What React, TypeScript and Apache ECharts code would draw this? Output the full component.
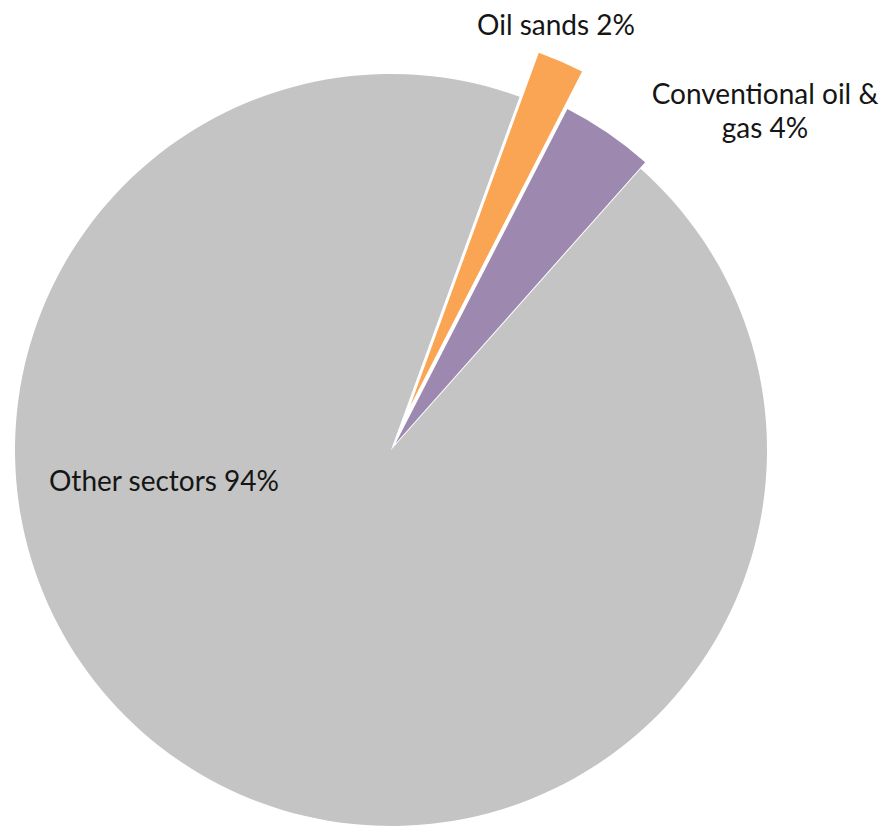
import React, { useEffect, useRef } from "react";
import * as echarts from "echarts";

const names = ["Oil sands", "Conventional oil & gas", "Other sectors"];
const labelNames = ["Oil sands", "Conventional oil &\ngas", "Other sectors"];
const values = [2, 4, 94];
const colors = ["#f9a553", "#9d88b0", "#c4c4c4"];
const offsets = [48, 8, 0];
const labelPos: [number, number][] = [
  [556, 24],
  [765, 110],
  [164, 480],
];

export default function App() {
  const ref = useRef<HTMLDivElement>(null);
  useEffect(() => {
    document.body.style.margin = "0";
    const chart = echarts.init(ref.current!, null, { renderer: "svg" });
    const total = values.reduce((a, b) => a + b, 0);
    const series = names.map((_, k) => ({
      type: "pie",
      center: [391, 450],
      radius: 376,
      startAngle: 70,
      clockwise: true,
      selectedMode: "multiple",
      selectedOffset: offsets[k],
      avoidLabelOverlap: false,
      silent: true,
      z: k === 2 ? 1 : 2,
      labelLine: { show: false },
      label: { show: false },
      data: names.map((n, i) => ({
        name: n,
        value: values[i],
        selected: i === k && offsets[k] > 0,
        itemStyle: {
          color: i === k ? colors[i] : "rgba(0,0,0,0)",
        },
      })),
    }));
    const graphic = names.map((_, i) => ({
      type: "text",
      x: labelPos[i][0],
      y: labelPos[i][1],
      z: 100,
      zlevel: 1,
      silent: true,
      style: {
        text: `${labelNames[i]} ${Math.round((values[i] / total) * 100)}%`,
        fill: "#151515",
        font: "28px Lato",
        lineHeight: 34,
        textAlign: "center",
        textVerticalAlign: "middle",
      },
    }));
    chart.setOption({ animation: false, series, graphic } as any);
    return () => chart.dispose();
  }, []);
  return <div ref={ref} style={{ width: 893, height: 836 }} />;
}
